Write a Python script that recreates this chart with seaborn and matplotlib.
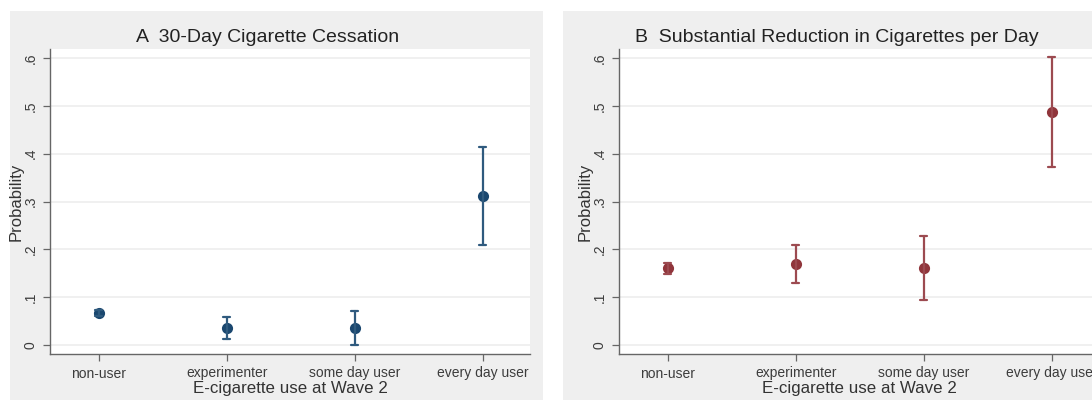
import matplotlib
matplotlib.use("Agg")
import matplotlib.pyplot as plt
import seaborn as sns
import pandas as pd
from matplotlib.patches import Rectangle

categories = ['non-user', 'experimenter', 'some day user', 'every day user']

# panel A: 30-day cessation (estimate, lower CI, upper CI)
cess_est = [0.066, 0.035, 0.035, 0.312]
cess_lo = [0.060, 0.013, 0.000, 0.210]
cess_hi = [0.072, 0.058, 0.070, 0.415]

# panel B: substantial reduction in cigarettes per day
red_est = [0.160, 0.170, 0.160, 0.487]
red_lo = [0.148, 0.130, 0.093, 0.373]
red_hi = [0.172, 0.210, 0.228, 0.602]

ytick_vals = [0, 0.1, 0.2, 0.3, 0.4, 0.5, 0.6]
ytick_labels = ['0', '.1', '.2', '.3', '.4', '.5', '.6']


def long_form(est, lo, hi):
    rows = []
    for c, e, l, h in zip(categories, est, lo, hi):
        for v in (l, e, h):
            rows.append({'group': c, 'prob': v})
    return pd.DataFrame(rows)


sns.set_theme(style="white")
plt.rcParams['font.family'] = ['Liberation Sans', 'DejaVu Sans']

W, H = 1092, 403
fig = plt.figure(figsize=(W / 100, H / 100), dpi=100)
fig.patch.set_facecolor('white')

# gray graph regions behind each panel
for x0, x1 in [(10, 543), (563, 1110)]:
    fig.patches.append(Rectangle((x0 / W, 3 / H), (x1 - x0) / W, (392 - 3) / H,
                                 transform=fig.transFigure, facecolor='#efefef',
                                 edgecolor='none', zorder=-10))

panels = [
    (50, 'A  30-Day Cigarette Cessation', 268, cess_est, cess_lo, cess_hi, '#1a476f', '#2f5a7e'),
    (619, 'B  Substantial Reduction in Cigarettes per Day', 837, red_est, red_lo, red_hi, '#90353b', '#9c4a50'),
]

for left, title, title_x, est, lo, hi, color, err_color in panels:
    ax = fig.add_axes([left / W, (H - 354) / H, 480 / W, 305 / H])
    ax.set_zorder(1)
    ax.set_facecolor('white')
    df = long_form(est, lo, hi)
    sns.pointplot(data=df, x='group', y='prob', order=categories,
                  estimator='median', errorbar=('pi', 100),
                  color=color, linestyle='none', markersize=6,
                  err_kws={'linewidth': 1.6, 'color': err_color}, capsize=0.06, ax=ax)
    ax.set_xlim(-0.38, 3.37)
    ax.set_ylim(-0.019, 0.619)
    ax.set_yticks(ytick_vals)
    ax.set_yticklabels(ytick_labels, rotation=90, va='center')
    ax.yaxis.grid(True, color='#eeeeee', linewidth=1.2)
    ax.set_axisbelow(True)
    for s in ['top', 'right']:
        ax.spines[s].set_visible(False)
    for s in ['left', 'bottom']:
        ax.spines[s].set_color('#666666')
        ax.spines[s].set_linewidth(1.0)
    ax.tick_params(axis='both', which='both', direction='out', length=5,
                   width=0.9, color='#666666', labelsize=10, labelcolor='#3c3c3c',
                   left=True, bottom=True, pad=4)
    ax.set_xlabel('E-cigarette use at Wave 2', fontsize=12.2, color='#333333', labelpad=0)
    ax.set_ylabel('Probability', fontsize=12, color='#333333', labelpad=0)
    fig.text(title_x / W, 1 - 37 / H, title, ha='center', va='center',
             fontsize=14, color='#222222')

fig.savefig('out.png', dpi=100, facecolor='white')
